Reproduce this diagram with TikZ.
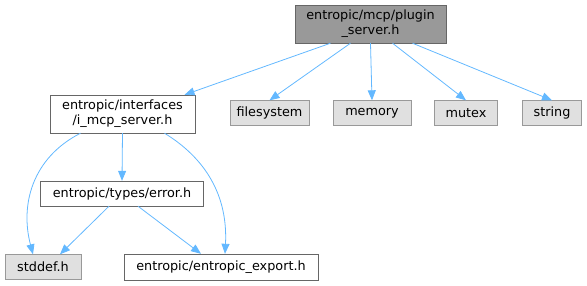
\documentclass[tikz,border=0pt]{standalone}
\usepackage{fontspec}
\setmainfont{DejaVu Sans}
\usetikzlibrary{arrows.meta}

\definecolor{edgeblue}{HTML}{63B8FF}
\definecolor{darkborder}{HTML}{666666}
\definecolor{midgray}{HTML}{999999}
\definecolor{lightgray}{HTML}{E0E0E0}

\begin{document}
\begin{tikzpicture}[
  x=1pt,y=-1pt,
  file/.style={draw=darkborder,fill=white,align=center,inner sep=0pt,font=\fontsize{12.8}{15}\selectfont},
  sysfile/.style={draw=midgray,fill=lightgray,inner sep=0pt,font=\fontsize{12.8}{15}\selectfont},
  topfile/.style={draw=darkborder,fill=midgray,align=center,inner sep=0pt,font=\fontsize{12.8}{15}\selectfont},
  edge/.style={-{Triangle[length=10pt,width=8pt]},draw=edgeblue,line width=0.8pt},
]
\useasboundingbox (0,0) rectangle (587,285);

% === TOP: the header itself ===
\node[topfile,minimum width=151pt,minimum height=38pt] (plugin) at (370.5,24)
  {entropic/mcp/plugin\\\_server.h};

% === SECOND ROW ===
\node[file,minimum width=145pt,minimum height=38pt] (imcp) at (122.5,114)
  {entropic/interfaces\\/i\_mcp\_server.h};
\node[sysfile,minimum width=79pt,minimum height=25pt] (fs) at (269.5,113) {filesystem};
\node[sysfile,minimum width=78pt,minimum height=25pt] (mem) at (372,113) {memory};
\node[sysfile,minimum width=63pt,minimum height=25pt] (mtx) at (466,113) {mutex};
\node[sysfile,minimum width=59pt,minimum height=25pt] (str) at (552,113) {string};

% === THIRD ROW ===
\node[file,minimum width=163pt,minimum height=25pt] (err) at (122,193.5) {entropic/types/error.h};

% === BOTTOM ROW ===
\node[sysfile,minimum width=76pt,minimum height=25pt] (stddef) at (43,267) {stddef.h};
\node[file,minimum width=194pt,minimum height=26pt] (export) at (221,267) {entropic/entropic\_export.h};

% Edges from the top header
\draw[edge] ([xshift=-40pt]plugin.south) -- ([xshift=62pt]imcp.north);
\draw[edge] ([xshift=-20pt]plugin.south) -- (fs.north);
\draw[edge] (plugin.south) -- (mem.north);
\draw[edge] ([xshift=22pt]plugin.south) -- (mtx.north);
\draw[edge] ([xshift=42pt]plugin.south) -- (str.north);

% Edges from i_mcp_server.h
\draw[edge] ([xshift=-42pt]imcp.south) .. controls (32,158) and (20,205) .. ([xshift=-10pt]stddef.north);
\draw[edge] (imcp.south) -- (err.north);
\draw[edge] ([xshift=42pt]imcp.south) .. controls (205,158) and (228,195) .. ([xshift=4pt]export.north);

% Edges from error.h
\draw[edge] ([xshift=-13pt]err.south) -- ([xshift=17pt]stddef.north);
\draw[edge] ([xshift=16pt]err.south) -- ([xshift=-20pt]export.north);

\end{tikzpicture}
\end{document}
